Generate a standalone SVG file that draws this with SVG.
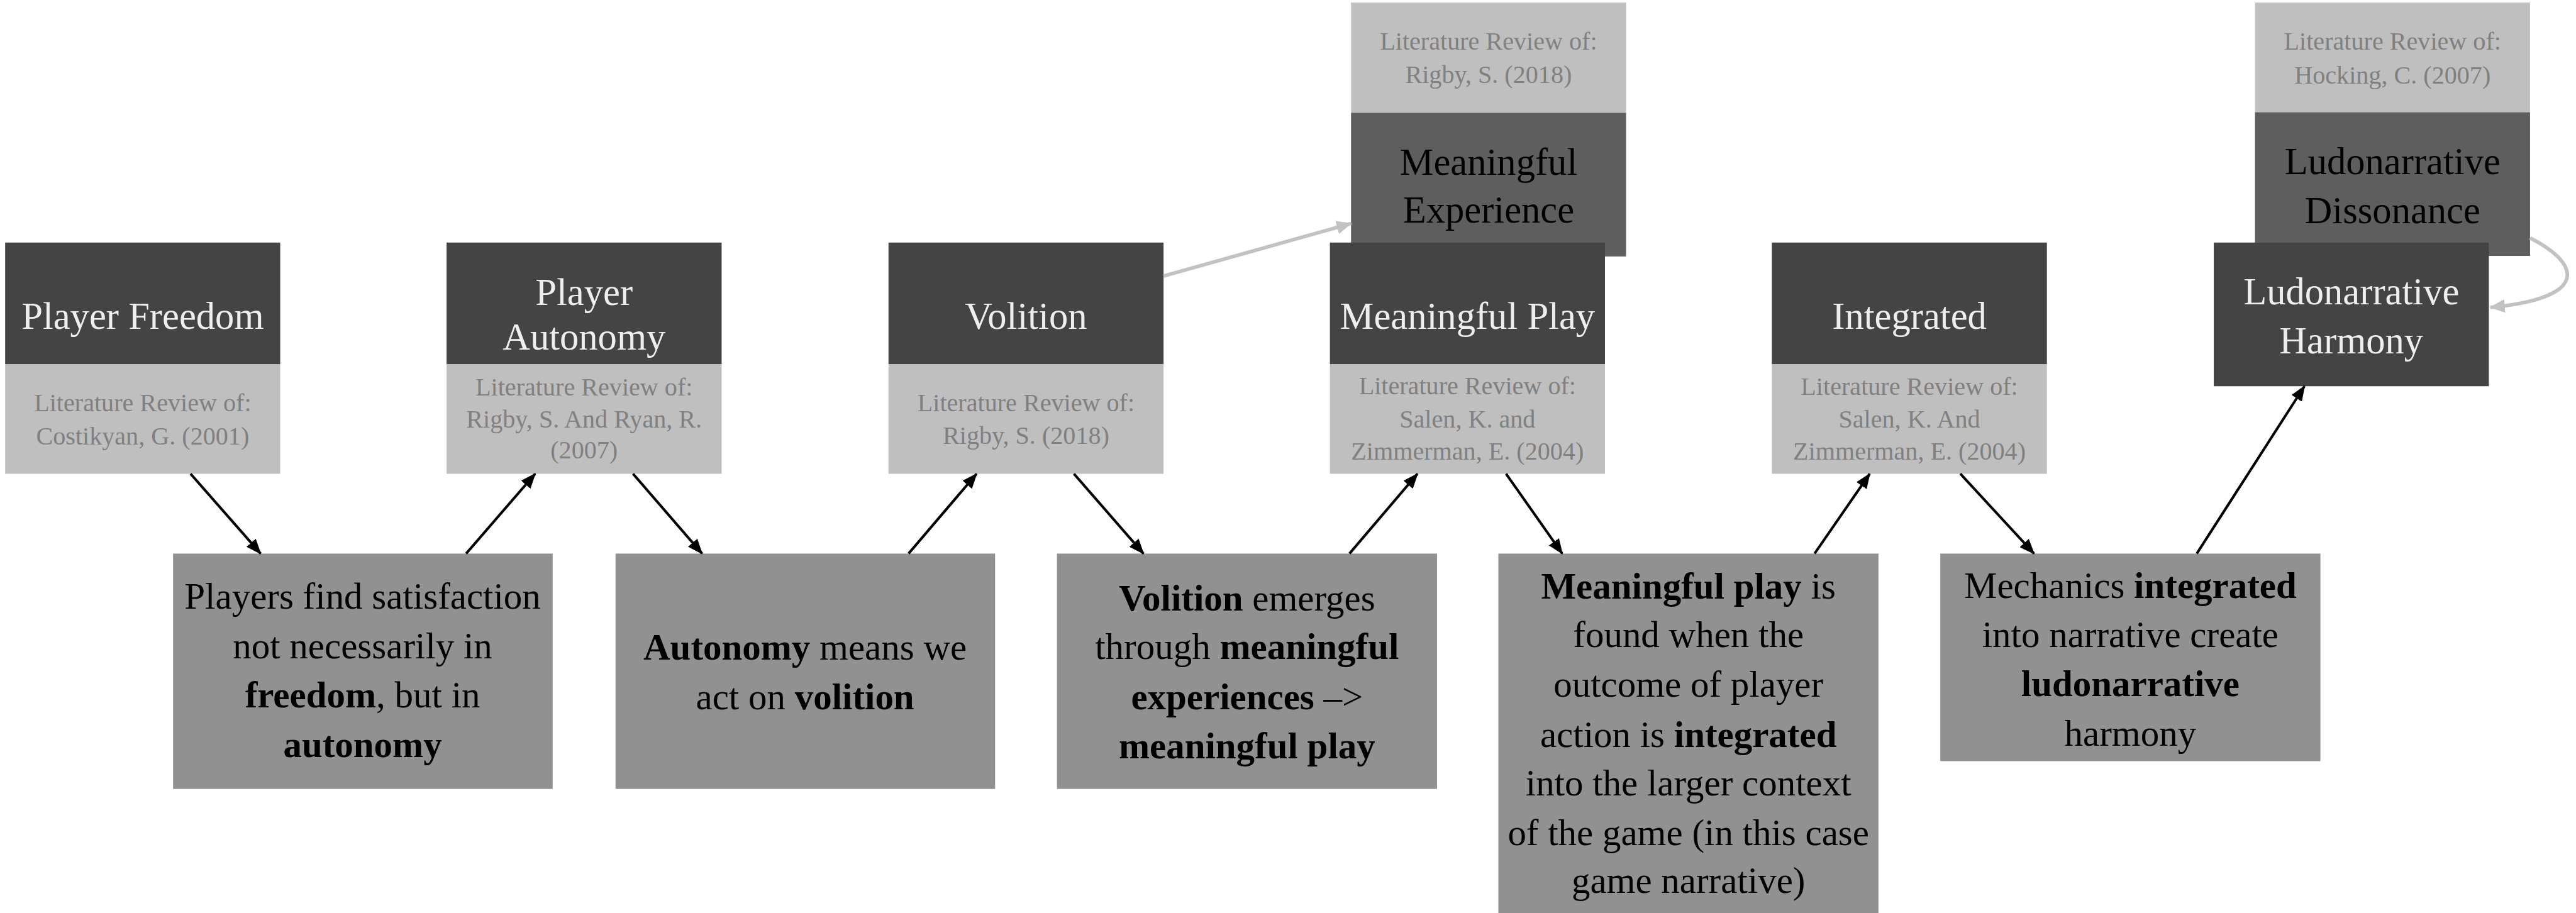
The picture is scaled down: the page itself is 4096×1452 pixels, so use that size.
<svg xmlns="http://www.w3.org/2000/svg" width="4096" height="1452" viewBox="0 0 4096 1452">
  <defs>
    <style>
      .dark { fill: #444444; }
      .mid { fill: #5e5e5e; }
      .lite { fill: #bfbfbf; }
      .body { fill: #919191; }
      text { font-family: "Liberation Serif", "Times New Roman", serif; text-anchor: middle; }
      .title { font-size: 74px; fill: #eeeeee; }
      .title-dk { font-size: 74px; fill: #000000; }
      .ref { font-size: 49px; fill: #808080; }
      .txt { font-size: 72px; fill: #000000; }
      .b { font-weight: bold; }
      .link { fill: none; stroke: #000000; stroke-width: 5; }
      .link-soft { fill: none; stroke: #c2c2c2; stroke-width: 7; }
    </style>
    <marker id="arrow" markerUnits="userSpaceOnUse" viewBox="0 0 30 24" refX="28" refY="12" markerWidth="30" markerHeight="24" orient="auto">
      <path d="M0,0 L30,12 L0,24 Z" fill="#000000"/>
    </marker>
    <marker id="arrow-soft" markerUnits="userSpaceOnUse" viewBox="0 0 30 26" refX="28" refY="13" markerWidth="30" markerHeight="26" orient="auto">
      <path d="M0,0 L30,13 L0,26 Z" fill="#c2c2c2"/>
    </marker>
  </defs>
  <rect width="4096" height="1452" fill="#ffffff"/>
  <g transform="scale(0.819)">
    <!-- concept nodes: dark heading over light literature panel -->
    <g id="player-freedom">
      <rect class="dark" x="10" y="471" width="534" height="236"/>
      <rect class="lite" x="10" y="707" width="534" height="213"/>
      <text class="title" x="277" y="638">Player Freedom</text>
      <text class="ref" x="277" y="799">Literature Review of:</text>
      <text class="ref" x="277" y="863">Costikyan, G. (2001)</text>
    </g>
    <g id="player-autonomy">
      <rect class="dark" x="867" y="471" width="534" height="236"/>
      <rect class="lite" x="867" y="707" width="534" height="213"/>
      <text class="title" x="1134" y="592">Player</text>
      <text class="title" x="1134" y="679">Autonomy</text>
      <text class="ref" x="1134" y="768">Literature Review of:</text>
      <text class="ref" x="1134" y="830">Rigby, S. And Ryan, R.</text>
      <text class="ref" x="1134" y="890">(2007)</text>
    </g>
    <g id="volition">
      <rect class="dark" x="1725" y="471" width="534" height="236"/>
      <rect class="lite" x="1725" y="707" width="534" height="213"/>
      <text class="title" x="1992" y="638">Volition</text>
      <text class="ref" x="1992" y="798">Literature Review of:</text>
      <text class="ref" x="1992" y="862">Rigby, S. (2018)</text>
    </g>
    <g id="meaningful-experience">
      <rect class="lite" x="2623" y="5" width="534" height="214"/>
      <rect class="mid" x="2623" y="219" width="534" height="279"/>
      <text class="ref" x="2890" y="96">Literature Review of:</text>
      <text class="ref" x="2890" y="161">Rigby, S. (2018)</text>
      <text class="title-dk" x="2890" y="339">Meaningful</text>
      <text class="title-dk" x="2890" y="432">Experience</text>
    </g>
    <g id="meaningful-play">
      <rect class="dark" x="2582" y="471" width="534" height="236"/>
      <rect class="lite" x="2582" y="707" width="534" height="213"/>
      <text class="title" x="2849" y="638">Meaningful Play</text>
      <text class="ref" x="2849" y="765">Literature Review of:</text>
      <text class="ref" x="2849" y="830">Salen, K. and</text>
      <text class="ref" x="2849" y="893">Zimmerman, E. (2004)</text>
    </g>
    <g id="integrated">
      <rect class="dark" x="3440" y="471" width="534" height="236"/>
      <rect class="lite" x="3440" y="707" width="534" height="213"/>
      <text class="title" x="3707" y="638">Integrated</text>
      <text class="ref" x="3707" y="767">Literature Review of:</text>
      <text class="ref" x="3707" y="830">Salen, K. And</text>
      <text class="ref" x="3707" y="892">Zimmerman, E. (2004)</text>
    </g>
    <g id="ludonarrative-dissonance">
      <rect class="lite" x="4378" y="5" width="534" height="213"/>
      <rect class="mid" x="4378" y="218" width="534" height="279"/>
      <text class="ref" x="4645" y="97">Literature Review of:</text>
      <text class="ref" x="4645" y="162">Hocking, C. (2007)</text>
      <text class="title-dk" x="4645" y="338">Ludonarrative</text>
      <text class="title-dk" x="4645" y="434">Dissonance</text>
    </g>
    <g id="ludonarrative-harmony">
      <rect class="dark" x="4298" y="471" width="534" height="279"/>
      <text class="title" x="4565" y="591">Ludonarrative</text>
      <text class="title" x="4565" y="686">Harmony</text>
    </g>

    <!-- explanation nodes -->
    <g id="note-satisfaction">
      <rect class="body" x="336" y="1075" width="737" height="457"/>
      <text class="txt" x="704" y="1182">Players find satisfaction</text>
      <text class="txt" x="704" y="1278">not necessarily in</text>
      <text class="txt" x="704" y="1374"><tspan class="b">freedom</tspan>, but in</text>
      <text class="txt" x="704" y="1470"><tspan class="b">autonomy</tspan></text>
    </g>
    <g id="note-autonomy">
      <rect class="body" x="1195" y="1075" width="737" height="457"/>
      <text class="txt" x="1563" y="1281"><tspan class="b">Autonomy</tspan> means we</text>
      <text class="txt" x="1563" y="1377">act on <tspan class="b">volition</tspan></text>
    </g>
    <g id="note-volition">
      <rect class="body" x="2052" y="1075" width="738" height="457"/>
      <text class="txt" x="2421" y="1185"><tspan class="b">Volition</tspan> emerges</text>
      <text class="txt" x="2421" y="1280">through <tspan class="b">meaningful</tspan></text>
      <text class="txt" x="2421" y="1377"><tspan class="b">experiences</tspan> –&gt;</text>
      <text class="txt" x="2421" y="1473"><tspan class="b">meaningful play</tspan></text>
    </g>
    <g id="note-meaningful-play">
      <rect class="body" x="2909" y="1075" width="738" height="698"/>
      <text class="txt" x="3278" y="1162"><tspan class="b">Meaningful play</tspan> is</text>
      <text class="txt" x="3278" y="1257">found when the</text>
      <text class="txt" x="3278" y="1353">outcome of player</text>
      <text class="txt" x="3278" y="1450">action is <tspan class="b">integrated</tspan></text>
      <text class="txt" x="3278" y="1545">into the larger context</text>
      <text class="txt" x="3278" y="1641">of the game (in this case</text>
      <text class="txt" x="3278" y="1734">game narrative)</text>
    </g>
    <g id="note-harmony">
      <rect class="body" x="3767" y="1075" width="738" height="403"/>
      <text class="txt" x="4136" y="1161">Mechanics <tspan class="b">integrated</tspan></text>
      <text class="txt" x="4136" y="1256">into narrative create</text>
      <text class="txt" x="4136" y="1352"><tspan class="b">ludonarrative</tspan></text>
      <text class="txt" x="4136" y="1448">harmony</text>
    </g>

    <!-- connectors -->
    <g id="connectors">
      <line class="link" x1="370" y1="920" x2="506" y2="1075" marker-end="url(#arrow)"/>
      <line class="link" x1="905" y1="1075" x2="1039" y2="920" marker-end="url(#arrow)"/>
      <line class="link" x1="1229" y1="920" x2="1363" y2="1075" marker-end="url(#arrow)"/>
      <line class="link" x1="1764" y1="1075" x2="1896" y2="920" marker-end="url(#arrow)"/>
      <line class="link" x1="2085" y1="920" x2="2220" y2="1075" marker-end="url(#arrow)"/>
      <line class="link" x1="2620" y1="1075" x2="2752" y2="920" marker-end="url(#arrow)"/>
      <line class="link" x1="2924" y1="920" x2="3033" y2="1075" marker-end="url(#arrow)"/>
      <line class="link" x1="3523" y1="1075" x2="3630" y2="920" marker-end="url(#arrow)"/>
      <line class="link" x1="3806" y1="920" x2="3949" y2="1075" marker-end="url(#arrow)"/>
      <line class="link" x1="4265" y1="1075" x2="4474" y2="750" marker-end="url(#arrow)"/>
      <line class="link-soft" x1="2259" y1="536" x2="2623" y2="434" marker-end="url(#arrow-soft)"/>
      <path class="link-soft" d="M4912,462 C5010,512 5030,578 4835,597" marker-end="url(#arrow-soft)"/>
    </g>
  </g>
</svg>
